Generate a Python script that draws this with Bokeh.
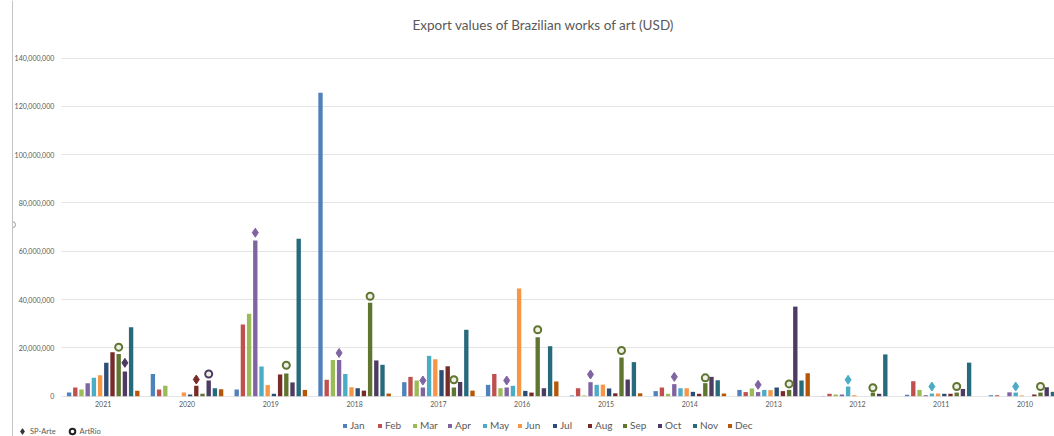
import math
from bokeh.plotting import figure
from bokeh.models import (ColumnDataSource, Range1d, FixedTicker, NumeralTickFormatter,
                          Legend, LegendItem, BoxAnnotation, Span, Label)
from bokeh.transform import dodge
from bokeh.embed import file_html
from bokeh.resources import INLINE

# ---- data (USD, millions) ----
years = ["2021", "2020", "2019", "2018", "2017", "2016", "2015", "2014", "2013", "2012", "2011", "2010"]
months = ["Jan", "Feb", "Mar", "Apr", "May", "Jun", "Jul", "Aug", "Sep", "Oct", "Nov", "Dec"]

jan = [1.5, 9.2, 2.8, 125.6, 5.8, 4.7, 0.3, 2.1, 2.6, 0.1, 0.6, 0.4]
feb = [3.6, 2.8, 29.7, 6.8, 8.0, 9.2, 3.3, 3.6, 1.7, 1.0, 6.2, 0.4]
mar = [2.8, 4.3, 34.1, 15.0, 6.5, 3.3, 0.3, 1.0, 3.2, 0.7, 2.6, 0.0]
apr = [5.4, 0.0, 64.5, 15.0, 3.6, 3.6, 5.8, 5.0, 1.7, 0.7, 0.4, 1.6]
may = [7.6, 0.0, 12.3, 9.2, 16.7, 4.3, 4.7, 3.3, 2.6, 4.0, 1.1, 1.5]
jun = [8.7, 1.5, 4.6, 3.7, 15.3, 44.6, 4.8, 3.3, 2.5, 0.4, 1.1, 0.3]
jul = [13.9, 0.7, 1.0, 3.3, 10.8, 2.2, 3.2, 1.8, 3.6, 0.0, 1.0, 0.0]
aug = [18.2, 4.3, 9.0, 2.3, 12.4, 1.5, 1.2, 1.0, 2.1, 0.0, 1.0, 0.7]
sep = [17.5, 1.0, 9.4, 38.7, 3.6, 24.4, 16.0, 5.4, 2.6, 1.5, 1.5, 1.5]
oct_ = [10.2, 6.5, 5.7, 14.8, 5.9, 3.3, 6.9, 8.0, 37.1, 1.0, 3.0, 3.7]
nov = [28.6, 3.3, 65.2, 13.0, 27.5, 20.7, 14.1, 6.6, 6.5, 17.3, 13.9, 1.8]
dec = [2.3, 2.9, 2.6, 1.1, 2.3, 6.1, 1.2, 1.1, 9.5, 0.0, 0.0, 0.5]
monthly = [jan, feb, mar, apr, may, jun, jul, aug, sep, oct_, nov, dec]

# art fair markers: month of the fair and marker level (USD, millions)
sp_arte_month = ["Oct", "Aug", "Apr", "Apr", "Apr", "Apr", "Apr", "Apr", "Apr", "May", "May", "May"]
sp_arte_value = [13.8, 6.9, 67.7, 17.9, 6.5, 6.5, 9.0, 8.0, 4.7, 6.8, 4.0, 4.0]
artrio_month = ["Sep", "Oct", "Sep", "Sep", "Sep", "Sep", "Sep", "Sep", "Sep", "Sep", "Sep", "Sep"]
artrio_value = [20.3, 9.2, 12.8, 41.4, 6.8, 27.5, 18.9, 7.6, 5.1, 3.5, 4.0, 4.0]

colors = ["#4f81bd", "#c0504d", "#9bbb59", "#8064a2", "#4bacc6", "#f79646",
          "#2c4d75", "#772c2a", "#5f7530", "#4d3b62", "#276a7c", "#b65708"]

TXT = "#595959"
FONT = "Lato"
STEP = 0.074      # spacing between month bars inside a year group
BAR_W = 0.052

# the plotting frame fills the whole canvas; axes sit at x=0 / y=0 inside it
X0, X1 = -0.7255, 11.852
Y0, Y1 = -16.69e6, 163.85e6
p = figure(width=1054, height=436, output_backend="svg", toolbar_location=None,
           x_range=Range1d(X0, X1), y_range=Range1d(Y0, Y1),
           min_border_left=0, min_border_right=0, min_border_top=0, min_border_bottom=0)
p.outline_line_color = None
p.background_fill_color = "white"
p.border_fill_color = "white"

# y axis
p.yaxis.fixed_location = 0
p.yaxis.ticker = FixedTicker(ticks=[i * 20e6 for i in range(8)])
p.yaxis.formatter = NumeralTickFormatter(format="0,0")
p.yaxis.axis_line_color = None
p.yaxis.major_tick_line_color = None
p.yaxis.minor_tick_line_color = None
p.yaxis.major_tick_in = 0
p.yaxis.major_tick_out = 0
p.yaxis.major_label_text_font = FONT
p.yaxis.major_label_text_font_size = "7px"
p.yaxis.major_label_text_color = TXT
p.yaxis.major_label_standoff = 7
p.ygrid.grid_line_color = "#e4e4e4"
p.ygrid.grid_line_width = 1

# x axis: one slot per year
x_centers = [i + 0.5 for i in range(len(years))]
p.xaxis.fixed_location = 0
p.xaxis.ticker = FixedTicker(ticks=x_centers)
p.xaxis.major_label_overrides = {c: y for c, y in zip(x_centers, years)}
p.xaxis.axis_line_color = None
p.xaxis.major_tick_line_color = None
p.xaxis.minor_tick_line_color = None
p.xaxis.major_tick_in = 0
p.xaxis.major_tick_out = 0
p.xaxis.major_label_text_font = FONT
p.xaxis.major_label_text_font_size = "7px"
p.xaxis.major_label_text_color = TXT
p.xaxis.major_label_standoff = 5
p.xgrid.grid_line_color = None

# keep gridlines out of the tick-label strip
p.add_layout(BoxAnnotation(right=0, fill_color="white", fill_alpha=1.0,
                           line_color=None, level="underlay"))

# thin border line on the far left
edge_x = X0 + 12 / 83.8
p.add_layout(Span(location=edge_x, dimension="height", line_color="#c4c4c4", line_width=1))
p.arc(x=[edge_x], y=[71e6], radius=3, radius_units="screen",
      start_angle=-math.pi / 2, end_angle=math.pi / 2, line_color="#9a9a9a", line_width=1)

p.add_layout(Label(x=5.754, y=153.6e6, text="Export values of Brazilian works of art (USD)",
                   text_font=FONT, text_font_size="13.5px", text_color=TXT,
                   text_align="center", text_baseline="middle"))

month_items = []
for m, (name, vals, col) in enumerate(zip(months, monthly, colors)):
    src = ColumnDataSource(dict(x=x_centers, top=[v * 1e6 for v in vals]))
    r = p.vbar(x=dodge("x", (m - 5.5) * STEP), top="top", width=BAR_W, source=src,
               fill_color=col, line_color=None)
    month_items.append(LegendItem(label=name, renderers=[r]))

# fair markers, coloured like the month bar they sit on
sp_src = ColumnDataSource(dict(
    x=[c + (months.index(m) - 5.5) * STEP for c, m in zip(x_centers, sp_arte_month)],
    y=[v * 1e6 for v in sp_arte_value],
    c=[colors[months.index(m)] for m in sp_arte_month]))
p.scatter("x", "y", source=sp_src, marker="diamond", size=9, fill_color="c", line_color="c")

ar_src = ColumnDataSource(dict(
    x=[c + (months.index(m) - 5.5) * STEP for c, m in zip(x_centers, artrio_month)],
    y=[v * 1e6 for v in artrio_value],
    c=[colors[months.index(m)] for m in artrio_month]))
p.scatter("x", "y", source=ar_src, marker="circle", size=7, fill_color="#eef0e6",
          line_color="c", line_width=2)

# legend swatches for the fairs (a single point parked outside the visible range)
sp_key = p.scatter(x=[0], y=[-1e9], marker="diamond", size=8,
                   fill_color="#333333", line_color="#333333")
ar_key = p.scatter(x=[0], y=[-1e9], marker="circle", size=6, fill_color="white",
                   line_color="#222222", line_width=2)

def style_legend(lg):
    lg.orientation = "horizontal"
    lg.background_fill_alpha = 0
    lg.border_line_color = None
    lg.padding = 0
    lg.margin = 0
    lg.label_text_font = FONT
    lg.label_text_color = TXT

month_legend = Legend(items=month_items, location=(342, 5))
style_legend(month_legend)
month_legend.label_text_font_size = "10px"
month_legend.label_height = 10
month_legend.glyph_width = 5
month_legend.glyph_height = 5
month_legend.label_standoff = 3
month_legend.spacing = 7
p.add_layout(month_legend, "center")

fair_legend = Legend(items=[LegendItem(label="SP-Arte", renderers=[sp_key]),
                            LegendItem(label="ArtRio", renderers=[ar_key])],
                     location=(15, -2))
style_legend(fair_legend)
fair_legend.label_text_font_size = "7.5px"
fair_legend.label_height = 8
fair_legend.glyph_width = 14
fair_legend.glyph_height = 14
fair_legend.label_standoff = 1
fair_legend.spacing = 9
p.add_layout(fair_legend, "center")

open("out.html", "w").write(file_html(p, INLINE))
